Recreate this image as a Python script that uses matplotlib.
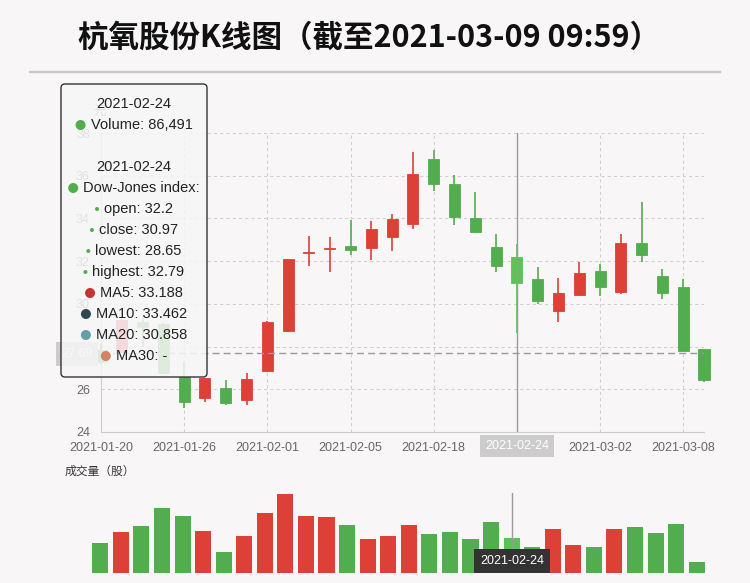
import matplotlib
matplotlib.use("Agg")
import matplotlib.pyplot as plt
from matplotlib.patches import FancyBboxPatch, Circle
import numpy as np

plt.rcParams["font.family"] = ["Liberation Sans", "Noto Sans CJK SC", "DejaVu Sans"]

TITLE = "杭氧股份K线图（截至2021-03-09 09:59）"
DATES = [
    "2021-01-20", "2021-01-21", "2021-01-22", "2021-01-25", "2021-01-26",
    "2021-01-27", "2021-01-28", "2021-01-29", "2021-02-01", "2021-02-02",
    "2021-02-03", "2021-02-04", "2021-02-05", "2021-02-08", "2021-02-09",
    "2021-02-10", "2021-02-18", "2021-02-19", "2021-02-22", "2021-02-23",
    "2021-02-24", "2021-02-25", "2021-02-26", "2021-03-01", "2021-03-02",
    "2021-03-03", "2021-03-04", "2021-03-05", "2021-03-08", "2021-03-09",
]
OPEN = [27.84, 27.76, 29.16, 29.06, 26.56, 25.58, 26.05, 25.50, 26.86, 28.73,
        32.36, 32.58, 32.69, 32.63, 33.13, 33.75, 36.78, 35.61, 34.02, 32.66,
        32.20, 31.16, 29.66, 30.43, 31.54, 30.55, 32.85, 31.30, 30.79, 27.89]
CLOSE = [27.29, 29.24, 28.93, 26.75, 25.39, 26.51, 25.34, 26.48, 29.16, 32.10,
         32.42, 32.62, 32.53, 33.49, 33.97, 36.09, 35.62, 34.07, 33.36, 31.79,
         30.97, 30.15, 30.51, 31.46, 30.77, 32.85, 32.30, 30.49, 27.81, 26.43]
LOW = [27.14, 27.70, 27.99, 26.70, 25.11, 25.42, 25.26, 25.26, 26.80, 28.70,
       31.79, 31.48, 32.27, 32.05, 32.49, 33.49, 35.30, 33.68, 33.33, 31.50,
       28.65, 29.99, 29.14, 30.38, 30.38, 30.47, 31.97, 30.21, 27.81, 26.33]
HIGH = [28.17, 29.30, 29.40, 29.10, 27.29, 26.55, 26.43, 26.75, 29.20, 32.12,
        33.19, 33.14, 33.93, 33.89, 34.21, 37.12, 37.20, 36.03, 35.24, 33.28,
        32.79, 31.72, 31.22, 31.97, 31.88, 33.26, 34.77, 31.63, 31.18, 27.89]
VOLUME = [74016, 101460, 115600, 161340, 142210, 103120, 52390, 91480, 148030, 197100,
          140550, 138880, 119760, 84000, 91480, 118090, 96470, 100630, 84830, 127240,
          86491, 64870, 108110, 69030, 65700, 108950, 113930, 99800, 120590, 27440]
TICK_IDX = [0, 4, 8, 12, 16, 20, 24, 28]
Y_TICKS = [24, 26, 28, 30, 32, 34, 36, 38]

FOCUS = 20
CROSS_PRICE = 27.69
TOOLTIP_MA = [("MA5: 33.188", "#c23531"), ("MA10: 33.462", "#2f4554"),
              ("MA20: 30.858", "#61a0a8"), ("MA30: -", "#d48265")]

RED = "#dd4036"
GREEN = "#52ad4e"
GREEN_HI = "#5dc157"
BG = "#f9f6f7"
W, H = 750, 583


def fx(px):
    return px / W


def fy(py):
    return 1 - py / H


fig = plt.figure(figsize=(7.5, 5.83), dpi=100, facecolor=BG)

# main candlestick axes
ax = fig.add_axes([fx(101), fy(432), fx(704) - fx(101), fy(133) - fy(432)])
ax.set_facecolor(BG)
x = np.arange(len(DATES))
o = np.array(OPEN)
c = np.array(CLOSE)
up = c >= o
colors = [RED if u else GREEN for u in up]
colors[FOCUS] = GREEN_HI
ax.vlines(x, LOW, HIGH, colors=colors, linewidth=1.2, zorder=3, clip_on=False)
ax.bar(x, c - o, bottom=o, width=0.53, color=colors, edgecolor=colors,
       linewidth=0.6, zorder=4, clip_on=False)
ax.set_xlim(0, len(DATES) - 1)
ax.set_ylim(24, 38)
ax.set_yticks(Y_TICKS)
ax.set_xticks(TICK_IDX)
# the focused date is shown by the axis-pointer label instead
ax.set_xticklabels(["" if i == FOCUS else DATES[i] for i in TICK_IDX])
ax.tick_params(length=0, labelsize=9, colors="#666666", pad=8)
ax.tick_params(axis="x", pad=7)
for y in Y_TICKS[1:]:
    ax.axhline(y, color="#cfcfcf", lw=0.75, ls=(0, (3, 3)), zorder=1)
for i in TICK_IDX[1:]:
    ax.axvline(i, color="#cfcfcf", lw=0.75, ls=(0, (3, 3)), zorder=1)
for s in ["top", "right"]:
    ax.spines[s].set_visible(False)
for s in ["left", "bottom"]:
    ax.spines[s].set_color("#cccccc")
# crosshair
ax.axhline(CROSS_PRICE, color="#9a9a9a", lw=1, ls=(0, (5, 3)), zorder=5)
ax.axvline(FOCUS, color="#9a9a9a", lw=1, zorder=5)

# volume axes
vax = fig.add_axes([fx(90), fy(573), fx(707) - fx(90), fy(493) - fy(573)])
vax.set_facecolor(BG)
vax.bar(x, VOLUME, width=0.78, color=colors, zorder=2)
vax.set_xlim(-0.5, len(DATES) - 0.5)
vax.set_ylim(0, max(VOLUME) * 1.008)
vax.axvline(FOCUS, color="#9a9a9a", lw=1, zorder=3)
vax.axis("off")

# overlay in pixel coordinates
ov = fig.add_axes([0, 0, 1, 1])
ov.set_xlim(0, W)
ov.set_ylim(H, 0)
ov.axis("off")
ov.patch.set_alpha(0)

ov.text(369, 38, TITLE, ha="center", va="center", fontsize=22, fontweight="bold",
        family=["Noto Sans CJK SC", "DejaVu Sans"], color="#111111")
ov.plot([30, 720], [72, 72], color="#c6c6c6", lw=1.6)
ov.text(100, 112, "元", ha="center", va="center", fontsize=9, color="#666666",
        family=["Noto Sans CJK SC"])
ov.text(65, 471, "成交量（股）", ha="left", va="center", fontsize=8.5, color="#333333",
        family=["Noto Sans CJK SC"])

# axis pointer labels
ov.text(77, 354, f"{CROSS_PRICE:.2f}", ha="center", va="center", fontsize=9, color="white",
        bbox=dict(boxstyle="square,pad=0.45", fc="#cccccc", ec="none"), zorder=2)
ov.text(517, 446, DATES[FOCUS], ha="center", va="center", fontsize=9, color="white",
        bbox=dict(boxstyle="square,pad=0.4", fc="#cccccc", ec="none"), zorder=2)
ov.text(512, 561, DATES[FOCUS], ha="center", va="center", fontsize=9, color="white",
        bbox=dict(boxstyle="square,pad=0.45", fc="#333333", ec="none"), zorder=2)

# tooltip
ov.add_patch(FancyBboxPatch((61, 84), 146, 293, boxstyle="round,pad=0,rounding_size=4",
                            fc=(0.965, 0.965, 0.965, 0.86), ec="#333333", lw=1, zorder=6))
fig.canvas.draw()
renderer = fig.canvas.get_renderer()


def tip_row(y, label, dot_color=None, dot_r=0.0):
    t = ov.text(0, y, label, ha="left", va="center", fontsize=10.5, color="#222222", zorder=8)
    w = t.get_window_extent(renderer).width
    gap = 5 if dot_r > 0 else 0
    total = w + (2 * dot_r + gap if dot_r > 0 else 0)
    left = 134 - total / 2
    if dot_r > 0:
        ov.add_patch(Circle((left + dot_r, y), dot_r, fc=dot_color, ec="none", zorder=8))
        t.set_x(left + 2 * dot_r + gap)
    else:
        t.set_x(left)


tip_row(104, DATES[FOCUS])
tip_row(125, f"Volume: {VOLUME[FOCUS]:,}", GREEN, 5)
tip_row(167, DATES[FOCUS])
tip_row(188, "Dow-Jones index:", GREEN, 5)
tip_row(209, f"open: {OPEN[FOCUS]}", GREEN, 2)
tip_row(230, f"close: {CLOSE[FOCUS]}", GREEN, 2)
tip_row(251, f"lowest: {LOW[FOCUS]}", GREEN, 2)
tip_row(272, f"highest: {HIGH[FOCUS]}", GREEN, 2)
for k, (lab, col) in enumerate(TOOLTIP_MA):
    tip_row(293 + 21 * k, lab, col, 5)

fig.savefig("out.png", dpi=100, facecolor=BG)
